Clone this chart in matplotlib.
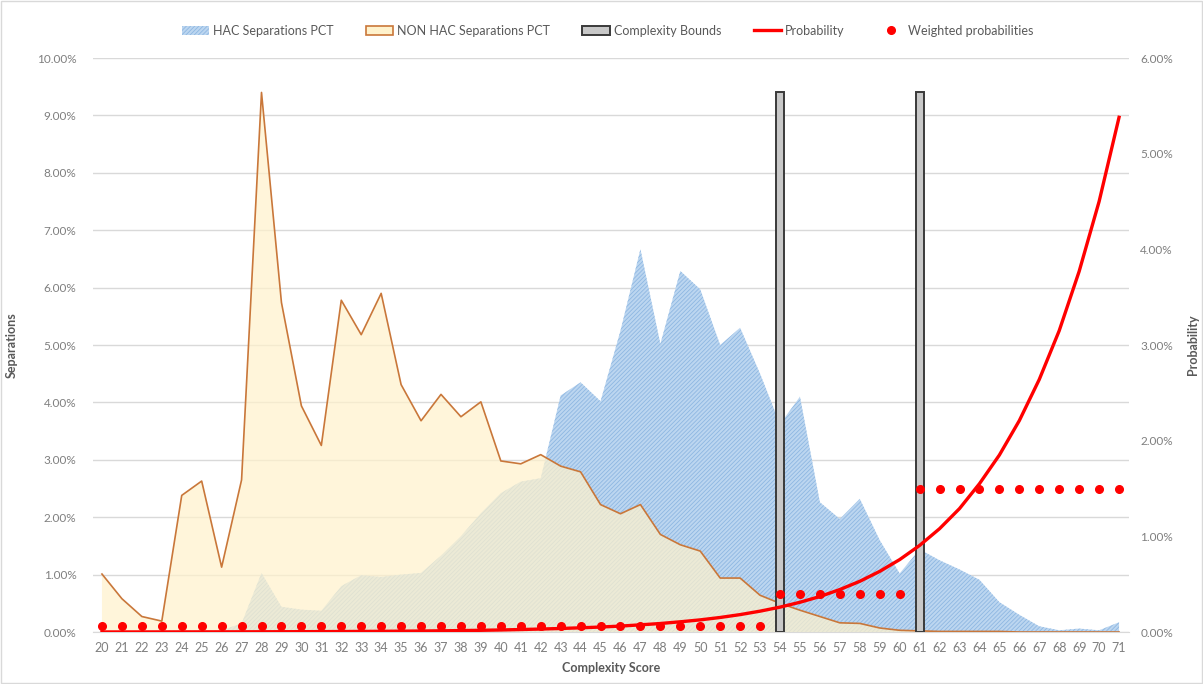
import matplotlib
matplotlib.use("Agg")
import matplotlib.pyplot as plt
from matplotlib.patches import Patch, Rectangle
from matplotlib.lines import Line2D
from matplotlib.ticker import FuncFormatter

scores = list(range(20, 72))

hac_pct = [0.00, 0.00, 0.02, 0.03, 0.03, 0.03, 0.03, 0.15, 1.03, 0.44,
           0.39, 0.37, 0.80, 0.99, 0.96, 1.00, 1.03, 1.33, 1.67, 2.07,
           2.42, 2.62, 2.68, 4.12, 4.35, 4.02, 5.25, 6.67, 5.02, 6.29,
           5.97, 5.00, 5.30, 4.50, 3.62, 4.10, 2.26, 1.97, 2.32, 1.60,
           1.02, 1.44, 1.25, 1.09, 0.91, 0.52, 0.30, 0.10, 0.03, 0.06,
           0.03, 0.17]

non_hac_pct = [1.01, 0.58, 0.27, 0.19, 2.38, 2.63, 1.13, 2.65, 9.40, 5.74,
               3.94, 3.25, 5.78, 5.18, 5.90, 4.31, 3.68, 4.14, 3.75, 4.01,
               2.98, 2.93, 3.09, 2.89, 2.79, 2.22, 2.06, 2.22, 1.70, 1.52,
               1.41, 0.94, 0.94, 0.64, 0.50, 0.38, 0.27, 0.16, 0.15, 0.07,
               0.03, 0.02, 0.01, 0.01, 0.01, 0.01, 0.00, 0.00, 0.00, 0.00,
               0.00, 0.00]

probability = [0.0006, 0.0007, 0.0009, 0.0010, 0.0012, 0.0015, 0.0018, 0.0021,
               0.0025, 0.0030, 0.0036, 0.0043, 0.0051, 0.0061, 0.0073, 0.0088,
               0.0105, 0.0125, 0.0150, 0.0179, 0.0214, 0.026, 0.031, 0.037,
               0.044, 0.052, 0.062, 0.075, 0.089, 0.107, 0.127, 0.152,
               0.182, 0.218, 0.260, 0.311, 0.371, 0.444, 0.530, 0.634,
               0.757, 0.905, 1.08, 1.29, 1.55, 1.85, 2.21, 2.64, 3.15,
               3.77, 4.50, 5.38]

weighted_prob = [0.065] * 34 + [0.40] * 7 + [1.50] * 11

bound_scores = [54, 61]
bound_heights = [9.40, 9.40]

left_ticks = [0, 1, 2, 3, 4, 5, 6, 7, 8, 9, 10]
right_ticks = [0, 1, 2, 3, 4, 5, 6]

plt.rcParams['font.family'] = ['Lato', 'DejaVu Sans']
plt.rcParams['hatch.linewidth'] = 0.6

fig = plt.figure(figsize=(12.03, 6.84), dpi=100)
ax = fig.add_axes([0.0773, 0.076, 0.8612, 0.8392])
ax2 = ax.twinx()

grid_c = '#D9D9D9'
txt_c = '#7F7F7F'
lab_c = '#595959'
blue_face = '#BCD6F0'
blue_hatch = '#8EB7E2'

# HAC area (hatched blue)
ax.fill_between(scores, 0, hac_pct, facecolor=blue_face, edgecolor=blue_hatch,
                hatch='////////', linewidth=0, zorder=2)
# NON HAC area
ax.fill_between(scores, 0, non_hac_pct, facecolor='#FFF2CC', alpha=0.72,
                linewidth=0, zorder=3)
ax.plot(scores, non_hac_pct, color='#C9773A', lw=1.2, zorder=4)

# Complexity bounds
ax.bar(bound_scores, bound_heights, width=0.4, color='#C8C8C8',
       edgecolor='#3A3A3A', linewidth=1.4, zorder=5)

ax.set_xlim(19.55, 71.5)
ax.set_ylim(0, 10)
ax2.set_ylim(0, 6)

# Probability line and weighted dots on secondary axis
ax2.plot(scores, probability, color='#FF0000', lw=2.4, zorder=6)
ax2.plot(scores, weighted_prob, linestyle='none', marker='o', markersize=5.5,
         color='#FF0000', zorder=7)

ax.set_zorder(1)
ax2.set_zorder(2)
ax.patch.set_visible(False)
ax2.patch.set_visible(False)

ax.set_yticks(left_ticks)
ax.yaxis.set_major_formatter(FuncFormatter(lambda v, p: f"{v:.2f}%"))
ax2.set_yticks(right_ticks)
ax2.yaxis.set_major_formatter(FuncFormatter(lambda v, p: f"{v:.2f}%"))
ax.set_xticks(scores)
ax.set_xticklabels([str(s) for s in scores])

ax.grid(axis='y', color=grid_c, lw=1.0, zorder=0)
ax.set_axisbelow(True)

for a in (ax, ax2):
    for s in a.spines.values():
        s.set_visible(False)
    a.tick_params(length=0, colors=txt_c, labelsize=8.5)
ax.spines['bottom'].set_visible(True)
ax.spines['bottom'].set_color(grid_c)
ax.tick_params(axis='x', pad=7, labelsize=9)
ax.tick_params(axis='y', pad=12)
ax2.tick_params(axis='y', pad=8)

ax.set_xlabel('Complexity Score', fontsize=9, fontweight='bold', color=lab_c, labelpad=6)
ax.set_ylabel('Separations', fontsize=9, fontweight='bold', color=lab_c, labelpad=14)
ax2.set_ylabel('Probability', fontsize=9, fontweight='bold', color=lab_c, labelpad=10)

handles = [
    Patch(facecolor=blue_face, edgecolor=blue_hatch, hatch='////////', linewidth=0),
    Patch(facecolor='#FFF2CC', edgecolor='#C9773A', linewidth=1.2),
    Patch(facecolor='#C8C8C8', edgecolor='#3A3A3A', linewidth=1.4),
    Line2D([], [], color='#FF0000', lw=2.4),
    Line2D([], [], color='#FF0000', marker='o', linestyle='none', markersize=5.5),
]
labels = ['HAC Separations PCT', 'NON HAC Separations PCT', 'Complexity Bounds',
          'Probability', 'Weighted probabilities']
leg = fig.legend(handles, labels, loc='center', bbox_to_anchor=(0.505, 0.955), ncol=5,
                 frameon=False, fontsize=9, handlelength=2.2, handleheight=0.8,
                 columnspacing=2.6, handletextpad=0.3)
for t in leg.get_texts():
    t.set_color(lab_c)

fig.patches.append(Rectangle((0.001, 0.001), 0.998, 0.998, transform=fig.transFigure,
                             fill=False, edgecolor='#D9D9D9', lw=1.0))

fig.savefig('out.png', dpi=100)
